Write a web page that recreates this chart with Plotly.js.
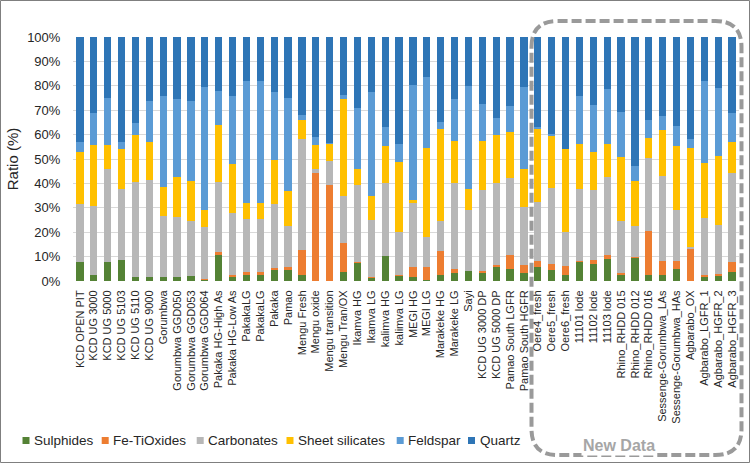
<!DOCTYPE html>
<html>
<head>
<meta charset="utf-8">
<script src="https://cdn.plot.ly/plotly-3.0.1.min.js"></script>
<style>
  html, body { margin: 0; padding: 0; background: #fff; }
  #chart { width: 750px; height: 463px; }
</style>
</head>
<body>
<div id="chart"></div>
<script>
const categories = [
  "KCD OPEN PIT", "KCD UG 3000", "KCD UG 5000", "KCD UG 5103", "KCD UG 5110", "KCD UG 9000",
  "Gorumbwa", "Gorumbwa GGD050", "Gorumbwa GGD053", "Gorumbwa GGD064",
  "Pakaka HG-High As", "Pakaka HG-Low As", "PakakaLG", "PakakaLG", "Pakaka", "Pamao",
  "Mengu Fresh", "Mengu oxide", "Mengu transition", "Mengu Tran/OX",
  "Ikamva HG", "Ikamva LG", "kalimva HG", "kalimva LG", "MEGI HG", "MEGI LG",
  "Marakeke HG", "Marakeke LG", "Sayi", "KCD UG 3000 DP", "KCD UG 5000 DP",
  "Pamao South LGFR", "Pamao South HGFR",
  "Oere4_fresh", "Oere5_fresh", "Oere6_fresh", "11101 lode", "11102 lode", "11103 lode",
  "Rhino_RHDD 015", "Rhino_RHDD 012", "Rhino_RHDD 016",
  "Sessenge-Gorumbwa_LAs", "Sessenge-Gorumbwa_HAs",
  "Agbarabo_OX", "Agbarabo_LGFR_1", "Agbarabo_HGFR_2", "Agbarabo_HGFR_3"
];

const seriesNames = ["Sulphides", "Fe-TiOxides", "Carbonates", "Sheet silicates", "Feldspar", "Quartz"];

const sulphides = [7.6, 2.6, 7.6, 8.7, 1.5, 1.5, 1.5, 1.5, 1.9, 0.4,
  10.5, 1.5, 2.5, 2.5, 4.5, 4.6, 2.5, 0, 0, 3.5,
  7.2, 1.1, 10.4, 2.2, 1.5, 0.5, 2.3, 3.4, 4.2, 3.4,
  5.7, 4.9, 3.3, 5.6, 4.5, 2.5, 7.9, 7.1, 8.9, 2.3,
  9.4, 2.5, 2.5, 4.8, 0, 1.6, 2.0, 3.5];
const feTiOxides = [0, 0, 0, 0, 0, 0, 0, 0, 0, 0.4,
  1.2, 1.0, 1.0, 1.0, 0.8, 1.1, 10.2, 44.1, 39.3, 12.2,
  0.4, 0.4, 0, 0.3, 4.1, 5.4, 9.8, 1.6, 0, 0.8,
  0.7, 5.7, 3.2, 2.7, 2.6, 3.6, 0.4, 1.5, 1.9, 0.8,
  0.6, 18.0, 5.8, 3.5, 13.1, 0.9, 0.9, 4.3];
const carbonates = [24.1, 28.1, 38.1, 29.0, 39.2, 40.1, 25.2, 24.6, 22.5, 21.2,
  29.0, 25.2, 22.1, 22.1, 26.2, 16.9, 45.3, 1.6, 9.9, 19.1,
  31.7, 23.7, 29.8, 17.4, 26.2, 12.2, 12.6, 35.0, 24.9, 33.3,
  33.8, 31.8, 23.8, 24.0, 31.1, 14.1, 29.4, 28.9, 31.9, 21.5,
  12.5, 30.0, 34.9, 20.8, 0.7, 23.4, 19.9, 36.5];
const sheetSilicates = [21.2, 25.1, 10.1, 16.2, 19.2, 15.3, 12.0, 16.6, 16.4, 6.9,
  23.1, 20.2, 6.2, 6.2, 18.0, 14.1, 7.9, 10.1, 7.1, 39.6,
  6.8, 9.6, 15.1, 28.9, 1.4, 36.6, 37.6, 17.3, 8.8, 19.7,
  19.6, 18.6, 15.4, 30.0, 21.1, 33.7, 18.5, 15.3, 13.5, 26.3,
  18.4, 8.0, 18.6, 26.2, 40.8, 22.3, 28.4, 12.6];
const feldspar = [3.9, 13.1, 19.1, 2.9, 5.0, 17.0, 37.3, 31.9, 33.1, 50.6,
  14.1, 28.0, 50.2, 50.2, 28.1, 38.2, 2.0, 3.1, 0.3, 2.0,
  24.8, 42.6, 7.7, 7.3, 47.2, 28.8, 2.8, 17.2, 42.2, 15.2,
  7.0, 10.6, 33.8, 0.9, 0.9, 0.3, 19.7, 19.2, 22.5, 18.4,
  6.3, 7.3, 5.7, 8.1, 3.8, 33.7, 27.7, 12.1];
const quartz = [43.2, 31.1, 25.1, 43.2, 35.1, 26.1, 24.0, 25.4, 26.1, 20.5,
  22.1, 24.1, 18.0, 18.0, 22.4, 25.1, 32.1, 41.1, 43.4, 23.6,
  29.1, 22.6, 37.0, 43.9, 19.6, 16.5, 34.9, 25.5, 19.9, 27.6,
  33.2, 28.4, 20.5, 36.8, 39.8, 45.8, 24.1, 28.0, 21.3, 30.7,
  52.8, 34.2, 32.5, 36.6, 41.6, 18.1, 21.1, 31.0];

const yTickVals = [0, 10, 20, 30, 40, 50, 60, 70, 80, 90, 100];

// ---- styling / layout ----
const colors = ["#548235", "#ED7D31", "#B7B7B7", "#FFC000", "#5B9BD5", "#2E75B6"];
const seriesValues = [sulphides, feTiOxides, carbonates, sheetSilicates, feldspar, quartz];
const xIdx = categories.map((_, i) => i);

const W = 750, H = 463;
const M = {l: 73, r: 11, t: 37, b: 182};
const PW = W - M.l - M.r, PH = H - M.t - M.b;
const px = x => (x - M.l) / PW;
const py = y => (H - M.b - y) / PH;

const traces = seriesValues.map((vals, k) => ({
  type: "bar",
  name: seriesNames[k],
  x: xIdx,
  y: vals,
  marker: {color: colors[k], line: {width: 0}},
  showlegend: false,
  hoverinfo: "skip"
}));

const font = "Liberation Sans, Arial, sans-serif";
const textColor = "#262626";

const shapes = [];
const annotations = [];

// custom legend
const legendX = [22.5, 101.7, 196.7, 286.5, 396.7, 468];
const legendY = 440.5;
seriesNames.forEach((n, k) => {
  shapes.push({
    type: "rect", xref: "paper", yref: "paper",
    x0: px(legendX[k]), x1: px(legendX[k] + 7),
    y0: py(legendY + 3.5), y1: py(legendY - 3.5),
    fillcolor: colors[k], line: {width: 0}
  });
  annotations.push({
    xref: "paper", yref: "paper",
    x: px(legendX[k] + 9.5), y: py(legendY),
    xanchor: "left", yanchor: "middle",
    text: n, showarrow: false,
    font: {family: font, size: 13.5, color: textColor}
  });
});

// outer border
shapes.push({
  type: "rect", xref: "paper", yref: "paper",
  x0: px(0.5), x1: px(W - 0.5), y0: py(H - 0.5), y1: py(0.5),
  line: {color: "#7f7f7f", width: 1}, fillcolor: "rgba(0,0,0,0)"
});

// dashed rounded "New Data" box
(function () {
  const L = 531.5, R = 741.5, T = 21, B = 455, r = 26;
  const P = (x, y) => px(x).toFixed(5) + "," + py(y).toFixed(5);
  const path = "M" + P(L, T + r) +
    " Q" + P(L, T) + " " + P(L + r, T) +
    " L" + P(R - r, T) +
    " Q" + P(R, T) + " " + P(R, T + r) +
    " L" + P(R, B - r) +
    " Q" + P(R, B) + " " + P(R - r, B) +
    " L" + P(L + r, B) +
    " Q" + P(L, B) + " " + P(L, B - r) + " Z";
  shapes.push({
    type: "path", xref: "paper", yref: "paper", path: path,
    line: {color: "#9a9a9a", width: 4, dash: "10px,4px"},
    fillcolor: "rgba(0,0,0,0)"
  });
})();

annotations.push({
  xref: "paper", yref: "paper",
  x: px(619), y: py(445),
  xanchor: "center", yanchor: "middle",
  text: "<b>New Data</b>", showarrow: false,
  bgcolor: "#ffffff", borderpad: 1,
  font: {family: font, size: 16, color: "#a6a6a6"}
});

const layout = {
  width: W, height: H,
  margin: M,
  paper_bgcolor: "#ffffff",
  plot_bgcolor: "#ffffff",
  barmode: "stack",
  bargap: 0.47,
  showlegend: false,
  font: {family: font, color: textColor},
  xaxis: {
    range: [-0.5, categories.length - 0.5],
    tickmode: "array",
    tickvals: xIdx,
    ticktext: categories,
    tickangle: -90,
    tickfont: {family: font, size: 11, color: textColor},
    ticks: "outside", ticklen: 4, tickcolor: "rgba(0,0,0,0)",
    showgrid: false, zeroline: false, showline: false,
    automargin: false, fixedrange: true
  },
  yaxis: {
    range: [0, 100],
    tickmode: "array",
    tickvals: yTickVals,
    ticktext: yTickVals.map(v => v + "%"),
    tickfont: {family: font, size: 13, color: textColor},
    ticks: "outside", ticklen: 9, tickcolor: "rgba(0,0,0,0)",
    showgrid: true, gridcolor: "#d9d9d9", gridwidth: 1,
    zeroline: false, showline: false,
    title: {text: "Ratio (%)", font: {family: font, size: 15, color: textColor}, standoff: 4},
    automargin: false, fixedrange: true
  },
  shapes: shapes,
  annotations: annotations
};

Plotly.newPlot("chart", traces, layout, {staticPlot: true, displayModeBar: false});
</script>
</body>
</html>
